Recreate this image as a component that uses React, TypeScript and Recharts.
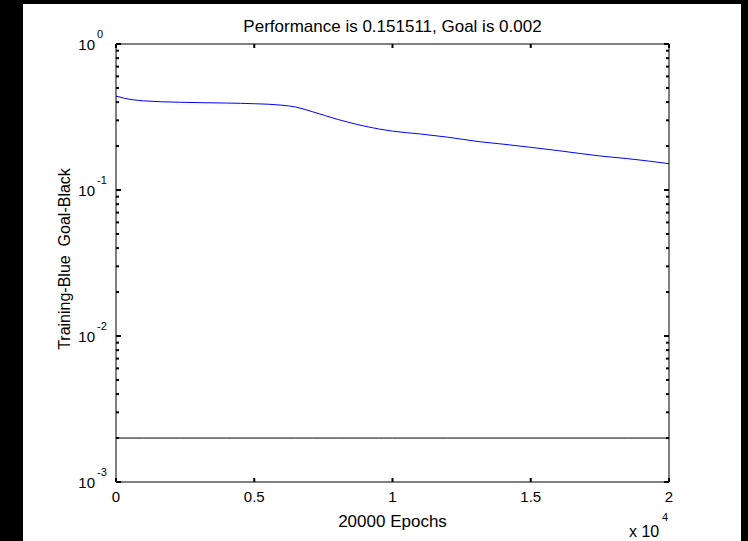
import React from 'react';
import { LineChart, Line, XAxis, YAxis, Label } from 'recharts';

const epochs = [0, 300, 1000, 2300, 4000, 5000, 6000, 6500, 7100, 8000, 9500, 10000, 11000, 12000, 13165, 14000, 15000, 16000, 17500, 18500, 20000];
const performance = [0.44, 0.425, 0.408, 0.399, 0.394, 0.39, 0.381, 0.37, 0.344, 0.305, 0.262, 0.253, 0.242, 0.23, 0.214, 0.206, 0.196, 0.186, 0.171, 0.164, 0.1515];
const goal = 0.002;
const xTicks = [0, 5000, 10000, 15000, 20000];
const xTickLabels = ['0', '0.5', '1', '1.5', '2'];
const decades = [0.001, 0.01, 0.1, 1];
const decadeExponents = ['-3', '-2', '-1', '0'];
const minorMultipliers = [2, 3, 4, 5, 6, 7, 8, 9];

const titleText = 'Performance is 0.151511, Goal is 0.002';
const xLabelText = '20000 Epochs';
const yLabelText = 'Training-Blue  Goal-Black';

const data = epochs.map((e, i) => ({ epoch: e, perf: performance[i], goal }));
const yTicks: number[] = [];
decades.forEach((d, i) => {
  yTicks.push(d);
  if (i < decades.length - 1) minorMultipliers.forEach((m) => yTicks.push(+(d * m).toPrecision(6)));
});

const FONT = '"Liberation Sans", Arial, Helvetica, sans-serif';

const decadeIndex = (v: number) => decades.findIndex((d) => Math.abs(d - v) < d * 1e-6);

const LeftTick = (props: any) => {
  const { x, y, payload } = props;
  const di = decadeIndex(payload.value);
  const major = di >= 0;
  return (
    <g>
      <line x1={x} x2={x + (major ? 5 : 3)} y1={y} y2={y} stroke="#000" strokeWidth={2} />
      {major && (
        <>
          <text x={x - 21} y={y + 6} textAnchor="end" fontSize={15} fontFamily={FONT} fill="#000">10</text>
          <text x={x - 19} y={y - 6} textAnchor="start" fontSize={11} fontFamily={FONT} fill="#000">{decadeExponents[di]}</text>
        </>
      )}
    </g>
  );
};

const RightTick = (props: any) => {
  const { x, y, payload } = props;
  const major = decadeIndex(payload.value) >= 0;
  return <line x1={x} x2={x - (major ? 5 : 3)} y1={y} y2={y} stroke="#000" strokeWidth={2} />;
};

const BottomTick = (props: any) => {
  const { x, y, payload } = props;
  const i = xTicks.indexOf(payload.value);
  return (
    <g>
      <line x1={x} x2={x} y1={y} y2={y - 4} stroke="#000" strokeWidth={2} />
      <text x={x} y={y + 20} textAnchor="middle" fontSize={15} fontFamily={FONT} fill="#000">{xTickLabels[i]}</text>
    </g>
  );
};

const TopTick = (props: any) => {
  const { x, y } = props;
  return <line x1={x} x2={x} y1={y} y2={y + 4} stroke="#000" strokeWidth={2} />;
};

const BottomLabel = (props: any) => {
  const { x, y, width } = props.viewBox;
  return (
    <g>
      <text x={x + width / 2} y={y + 45} textAnchor="middle" fontSize={17} fontFamily={FONT} fill="#000">{xLabelText}</text>
      <text x={x + width - 40} y={y + 55} textAnchor="start" fontSize={16} fontFamily={FONT} fill="#000">x 10</text>
      <text x={x + width - 7} y={y + 39} textAnchor="start" fontSize={11} fontFamily={FONT} fill="#000">4</text>
    </g>
  );
};

const TopLabel = (props: any) => {
  const { x, y, width, height } = props.viewBox;
  return (
    <text x={x + width / 2} y={y + height - 12} textAnchor="middle" fontSize={17} fontFamily={FONT} fill="#000">{titleText}</text>
  );
};

const LeftLabel = (props: any) => {
  const { x, y, height } = props.viewBox;
  const cx = x + 8;
  const cy = y + height / 2 - 4;
  return (
    <text x={cx} y={cy} transform={`rotate(-90 ${cx} ${cy})`} textAnchor="middle" dominantBaseline="central" fontSize={16} fontFamily={FONT} fill="#000" xmlSpace="preserve" style={{ whiteSpace: 'pre' }}>{yLabelText}</text>
  );
};

export default function App() {
  return (
    <div style={{ position: 'absolute', left: 0, top: 0, width: 748, height: 541, background: '#000', overflow: 'hidden' }}>
      <div style={{ position: 'absolute', left: 23, top: 4, width: 718, height: 537, background: '#fff' }} />
      <div style={{ position: 'absolute', left: 0, top: 0 }}>
        <LineChart width={748} height={541} data={data} margin={{ top: 14, right: 69, bottom: 29, left: 56 }}>
          <XAxis xAxisId="b" dataKey="epoch" type="number" domain={[0, 20000]} ticks={xTicks} interval={0}
            tickSize={0} tickMargin={0} tick={<BottomTick />} tickLine={false} axisLine={{ stroke: '#000', strokeWidth: 1 }} height={30} orientation="bottom">
            <Label content={<BottomLabel />} />
          </XAxis>
          <XAxis xAxisId="t" dataKey="epoch" type="number" domain={[0, 20000]} ticks={xTicks} interval={0}
            tickSize={0} tickMargin={0} tick={<TopTick />} tickLine={false} axisLine={{ stroke: '#000', strokeWidth: 1 }} height={30} orientation="top">
            <Label content={<TopLabel />} />
          </XAxis>
          <YAxis yAxisId="l" type="number" scale="log" domain={[0.001, 1]} allowDataOverflow ticks={yTicks} interval={0}
            tickSize={0} tickMargin={0} tick={<LeftTick />} tickLine={false} axisLine={{ stroke: '#000', strokeWidth: 1 }} width={60} orientation="left">
            <Label content={<LeftLabel />} />
          </YAxis>
          <YAxis yAxisId="r" type="number" scale="log" domain={[0.001, 1]} allowDataOverflow ticks={yTicks} interval={0}
            tickSize={0} tickMargin={0} tick={<RightTick />} tickLine={false} axisLine={{ stroke: '#000', strokeWidth: 1 }} width={10} orientation="right" />
          <Line xAxisId="b" yAxisId="l" dataKey="goal" stroke="#000" strokeWidth={1} dot={false} isAnimationActive={false} type="linear" />
          <Line xAxisId="b" yAxisId="l" dataKey="perf" stroke="#0000ff" strokeWidth={1} dot={false} isAnimationActive={false} type="monotone" />
        </LineChart>
      </div>
    </div>
  );
}
